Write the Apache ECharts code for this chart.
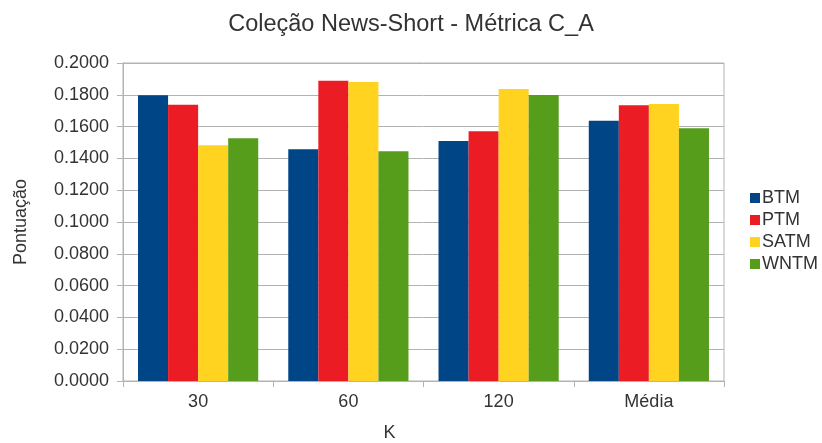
<!DOCTYPE html>
<html>
<head>
<meta charset="utf-8">
<script src="https://cdn.jsdelivr.net/npm/echarts@6/dist/echarts.min.js"></script>
<style>
  html, body { margin: 0; padding: 0; background: #fff; }
  #chart { width: 822px; height: 443px; }
</style>
</head>
<body>
<div id="chart"></div>
<script>
// Categories (K values plus the average) and scores per model
const categories = ['30', '60', '120', 'Média'];
const btm  = [0.1797, 0.1457, 0.1509, 0.1637];
const ptm  = [0.1738, 0.1889, 0.1570, 0.1734];
const satm = [0.1482, 0.1881, 0.1836, 0.1742];
const wntm = [0.1526, 0.1445, 0.1799, 0.1589];

const seriesNames = ['BTM', 'PTM', 'SATM', 'WNTM'];
const seriesData = [btm, ptm, satm, wntm];
const colors = ['#004586', '#ec1c24', '#ffd320', '#579d1c'];

const font = '"Liberation Sans", Arial, sans-serif';
const chart = echarts.init(document.getElementById('chart'));

chart.setOption({
  animation: false,
  backgroundColor: '#ffffff',
  title: {
    text: 'Coleção News-Short - Métrica C_A',
    left: 'center',
    top: 8,
    textStyle: { fontFamily: font, fontSize: 23.5, fontWeight: 'normal', color: '#333333' }
  },
  legend: {
    orient: 'vertical',
    left: 745,
    top: 184,
    itemWidth: 10,
    itemHeight: 10,
    itemGap: 4,
    icon: 'rect',
    textStyle: { fontFamily: font, fontSize: 18, color: '#333333', padding: [0, 0, 0, -3] },
    data: seriesNames
  },
  grid: {
    left: 123,
    right: 98,
    top: 63,
    bottom: 62,
    outerBoundsMode: 'none',
    show: true,
    borderColor: '#b3b3b3',
    borderWidth: 1
  },
  xAxis: {
    type: 'category',
    data: categories,
    name: 'K',
    nameLocation: 'middle',
    nameGap: 43,
    nameTextStyle: { fontFamily: font, fontSize: 18, color: '#333333', padding: [0, 68, 0, 0] },
    axisLine: { lineStyle: { color: '#b3b3b3' } },
    axisTick: { show: true, length: 6, lineStyle: { color: '#b3b3b3' } },
    axisLabel: { fontFamily: font, fontSize: 18, color: '#333333', margin: 12 }
  },
  yAxis: {
    type: 'value',
    min: 0,
    max: 0.2,
    interval: 0.02,
    name: 'Pontuação',
    nameLocation: 'middle',
    nameGap: 93,
    nameTextStyle: { fontFamily: font, fontSize: 18, color: '#333333' },
    axisLine: { show: true, lineStyle: { color: '#b3b3b3' } },
    axisTick: { show: true, length: 6, lineStyle: { color: '#b3b3b3' } },
    axisLabel: {
      fontFamily: font, fontSize: 18, color: '#333333', margin: 14,
      formatter: v => v.toFixed(4)
    },
    splitLine: { show: true, lineStyle: { color: '#b3b3b3' } }
  },
  series: seriesNames.map((name, i) => ({
    name: name,
    type: 'bar',
    data: seriesData[i],
    barGap: '0%',
    barCategoryGap: '20%',
    itemStyle: { color: colors[i] }
  }))
});
</script>
</body>
</html>
